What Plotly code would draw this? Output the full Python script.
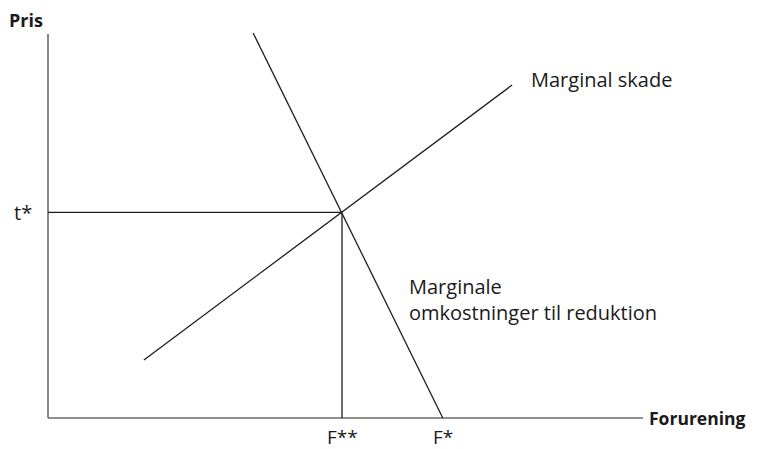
import plotly.graph_objects as go

# axis extents (abstract units)
x_axis_end = 85
y_axis_top = 96

# curves
skade_x = [13.7, 66.3]
skade_y = [14.5, 83.25]
omk_x = [29.3, 56.4]
omk_y = [96.25, 0]

# equilibrium
f_star2 = 42.0
t_star = 51.4
f_star = 56.4

axis_col = '#6b6b6b'
line_col = '#1e1e1e'
fnt = 'Open Sans, sans-serif'

data = [
    go.Scatter(x=[0, 0], y=[0, y_axis_top], mode='lines',
               line=dict(color=axis_col, width=1.6)),
    go.Scatter(x=[0, x_axis_end], y=[0, 0], mode='lines',
               line=dict(color=axis_col, width=1.6)),
    go.Scatter(x=[0, f_star2], y=[t_star, t_star], mode='lines',
               line=dict(color=line_col, width=1.3)),
    go.Scatter(x=[f_star2, f_star2], y=[t_star, 0], mode='lines',
               line=dict(color=line_col, width=1.3)),
    go.Scatter(x=skade_x, y=skade_y, mode='lines',
               line=dict(color=line_col, width=1.3)),
    go.Scatter(x=omk_x, y=omk_y, mode='lines',
               line=dict(color=line_col, width=1.3)),
]

def lab(x, y, text, xa='left', bold=False, size=20):
    return dict(x=x, y=y, text='<b>%s</b>' % text if bold else text,
                showarrow=False, xanchor=xa, yanchor='middle', borderpad=0,
                font=dict(family=fnt, size=size, color='#1a1a1a'))

annotations = [
    lab(-5.71, 99.4, 'Pris', bold=True, size=18),
    lab(85.7, 0, 'Forurening', bold=True, size=17.5),
    lab(-2.1, t_star, 't*', xa='right'),
    lab(f_star2, -4.8, 'F**', xa='center', size=19),
    lab(f_star, -4.8, 'F*', xa='center', size=19),
    lab(68.8, 84.75, 'Marginal skade'),
    lab(51.4, 33, 'Marginale'),
    lab(51.4, 26.5, 'omkostninger til reduktion'),
]

# page body adds 8px, so the figure starts 8px in; ranges keep 7px/4px per unit
layout = go.Layout(width=751, height=441,
                   margin=dict(l=0, r=0, t=0, b=0),
                   paper_bgcolor='white', plot_bgcolor='white',
                   showlegend=False,
                   xaxis=dict(range=[-40 / 7, 711 / 7], visible=False, fixedrange=True),
                   yaxis=dict(range=[-7.75, 102.5], visible=False, fixedrange=True),
                   annotations=annotations)

fig = go.Figure(data=data, layout=layout)
fig.update_traces(hoverinfo='skip')
fig.write_html('out.html', config={'displayModeBar': False})
